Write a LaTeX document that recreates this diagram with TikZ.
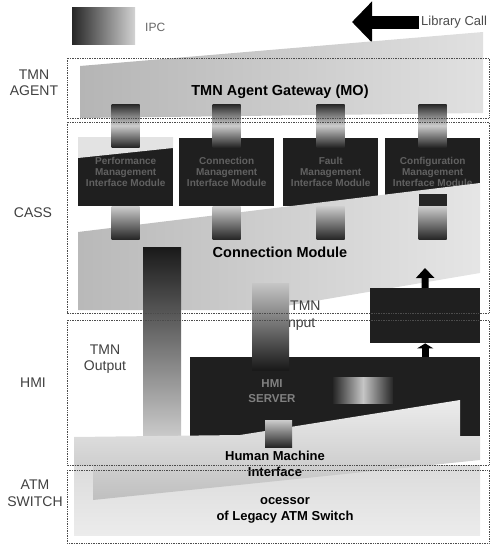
\documentclass[tikz,border=0pt]{standalone}
\usepackage{fontspec}
\setmainfont{Liberation Sans}
\usepackage{xcolor}
\usetikzlibrary{arrows.meta}

\begin{document}
\begin{tikzpicture}[x=1pt, y=-1pt,
  every node/.style={font=\fontsize{14}{16.5}\selectfont, inner sep=0pt, text=black!75},
  layerbox/.style={densely dotted, draw=black!70, line width=0.7pt},
  bandtext/.style={font=\fontsize{14.5}{16}\selectfont\bfseries, align=center, text=black},
  modbox/.style={fill=black!88, minimum width=95pt, minimum height=68pt, anchor=north west, align=center, text=black!62, font=\fontsize{10}{11}\selectfont\bfseries},
  darkbox/.style={fill=black!88, anchor=north west},
  ipcdown/.style={top color=black!85, bottom color=black!85, middle color=gray!40},
  ipclow/.style={top color=gray!40, bottom color=black!85},
  fatup/.style={line width=7pt, black, -{Triangle[length=10pt, width=18pt]}}]
\useasboundingbox (0,0) rectangle (491,546);

% legend
\shade[left color=black!85, right color=gray!35] (72,7) rectangle (135,44);
\node[anchor=west, text=black!60, font=\fontsize{12}{14}\selectfont] (ipc) at (145,27) {IPC};
\node[anchor=west, text=black!70, font=\fontsize{13}{15}\selectfont] (libcall) at (421,22) {Library Call};
\coordinate (libtip) at (352,22);
\draw[line width=13pt, black, -{Triangle[length=20pt, width=40pt]}] (libcall.west) ++(-2,0) -- (libtip);

% TMN agent
\shade[left color=gray!58, right color=gray!24] (80,66) -- (483,32) -- (483,113) -- (80,118) -- cycle;
\node[bandtext] (gw) at (280,92) {TMN Agent Gateway (MO)};

% CASS
\node[modbox] (perf) at (78,138) {Performance\\Management\\Interface Module};
\node[modbox] (conn) at (179,138) {Connection\\Management\\Interface Module};
\node[modbox] (fault) at (283,138) {Fault\\Management\\Interface Module};
\node[modbox] (conf) at (385,138) {Configuration\\Management\\Interface Module};
\fill[gray!22] (78,137) -- (173,137) -- (173,148) -- (78,158) -- cycle;
\foreach \m in {perf,conn,fault,conf}
  \shade[ipcdown] ([xshift=-14pt, yshift=34pt]\m.north) rectangle ([xshift=14pt, yshift=-9pt]\m.north);

\shade[left color=gray!55, right color=gray!20] (78,232) -- (480,183) -- (480,273) -- (262,310) -- (78,310) -- cycle;
\fill[black!85] ([xshift=-14pt, yshift=12pt]conf.south) rectangle ([xshift=14pt]conf.south);
\foreach \m in {perf,conn,fault,conf}
  \shade[ipclow] ([xshift=-14pt]\m.south) rectangle ([xshift=14pt, yshift=-33pt]\m.south);
\node[bandtext] (cm) at (280,252) {Connection Module};

% TMN output
\shade[top color=black!90, bottom color=gray!35] (143,247) rectangle (181,445);

% alarm box and server
\node[darkbox, minimum width=110pt, minimum height=55pt] (alarm) at (370,288) {};
\coordinate (cmtip) at (425,268);
\draw[fatup] (alarm.north) -- (cmtip);
\node[darkbox, minimum width=290pt, minimum height=80pt] (server) at (190,357) {};
\draw[fatup, -{Triangle[length=5pt, width=16pt]}] (alarm.south |- server.north) -- (alarm.south);
\shade[left color=black!85, right color=black!85, middle color=gray!45] (333,377) rectangle (393,403);
\node[font=\fontsize{11.5}{15}\selectfont\bfseries, text=black!50, align=center] (srvlbl) at (272,391) {HMI\\SERVER};

% TMN input
\node[anchor=north west, align=left] (tmnin) at (284,301) {\hspace*{6pt}TMN\\Input};
\shade[top color=gray!45, bottom color=black!90] (252,283) rectangle (289,370);

% ATM switch
\shade[top color=gray!28, bottom color=gray!15] (74,465) rectangle (480,535);
\node[bandtext, font=\fontsize{13}{16}\selectfont\bfseries] (legacy) at (285,510) {ocessor\\of Legacy ATM Switch};

% HMI
\shade[top color=gray!15, bottom color=gray!50] (74,437) -- (240,435) -- (460,400) -- (460,436) -- (480,436) -- (480,460) -- (93,500) -- (93,466) -- (74,466) -- cycle;
\shade[ipclow] (265,420) rectangle (292,447);
\node[bandtext, font=\fontsize{13}{16}\selectfont\bfseries] (hmiif) at (275,464) {Human Machine\\Interface};

% layer names
\node[align=center] (lagent) at (34,83) {TMN\\AGENT};
\node (lcass) at (33,213) {CASS};
\node (lhmi) at (33,383) {HMI};
\node[align=center] (latm) at (35,493) {ATM\\SWITCH};
\node[align=center] (tmnout) at (105,359) {TMN\\Output};

\draw[layerbox] (67,58) rectangle (489,118);
\draw[layerbox] (67,122) rectangle (489,313);
\draw[layerbox] (67,320) rectangle (489,465);
\draw[layerbox] (67,470) rectangle (489,543);
\end{tikzpicture}
\end{document}
